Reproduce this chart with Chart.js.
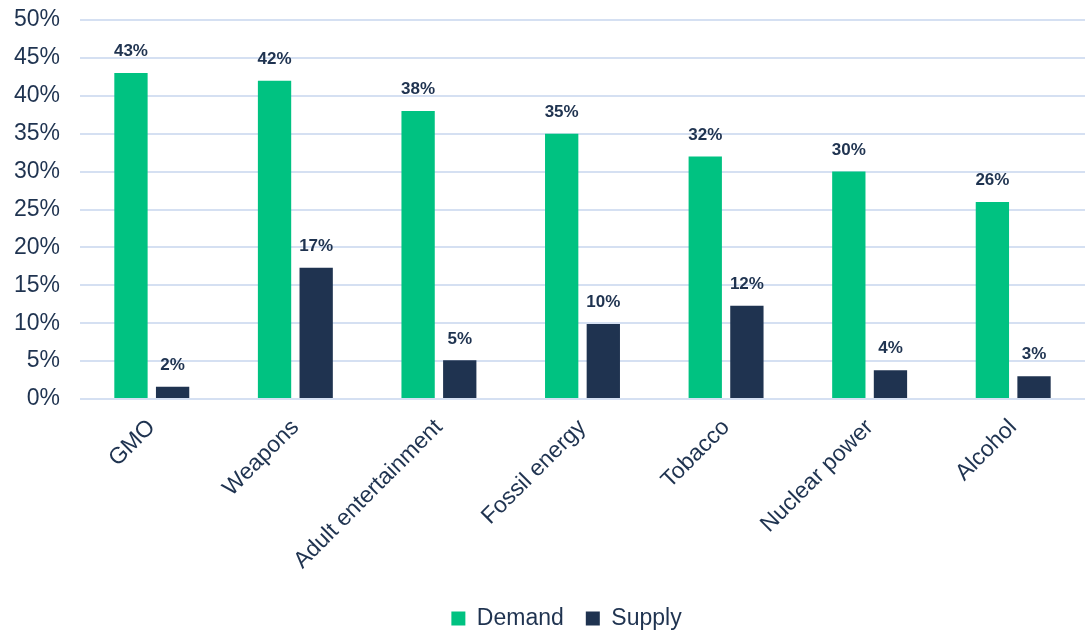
<!DOCTYPE html>
<html>
<head>
<meta charset="utf-8">
<script src="https://cdn.jsdelivr.net/npm/chart.js@4"></script>
<style>
  html, body { margin: 0; padding: 0; background: #fff; }
  #wrap { width: 1090px; height: 635px; }
</style>
</head>
<body>
<div id="wrap"><canvas id="chart"></canvas></div>
<script>
const categories = ['GMO', 'Weapons', 'Adult entertainment', 'Fossil energy', 'Tobacco', 'Nuclear power', 'Alcohol']
const demand = [43, 42, 38, 35, 32, 30, 26]
const supply = [1.6, 17.3, 5.1, 9.9, 12.3, 3.8, 3.0]
const yTicks = [0, 5, 10, 15, 20, 25, 30, 35, 40, 45, 50]

const navy = '#1f3350'
const green = '#00c281'
const fontFamily = '"Liberation Sans", Arial, sans-serif'

// percent labels over each bar
const barLabels = {
    id: 'barLabels',
    afterDatasetsDraw(chart) {
        const ctx = chart.ctx
        ctx.save()
        ctx.font = 'bold 17px ' + fontFamily
        ctx.fillStyle = navy
        ctx.textAlign = 'center'
        ctx.textBaseline = 'bottom'
        chart.data.datasets.forEach((ds, i) => {
            chart.getDatasetMeta(i).data.forEach((bar, j) => {
                ctx.fillText(Math.round(ds.data[j]) + '%', bar.x, bar.y - 13)
            })
        })
        ctx.restore()
    }
}

// legend sits a bit right of the canvas centre
const legendShift = {
    id: 'legendShift',
    afterLayout(chart) {
        chart.legend.left += 24
        chart.legend.right += 24
    }
}

new Chart(document.getElementById('chart').getContext('2d'), {
    type: 'bar',
    data: {
        labels: categories,
        datasets: [{
            label: 'Demand',
            data: demand,
            backgroundColor: green,
            categoryPercentage: 0.58,
            barPercentage: 0.8
        }, {
            label: 'Supply',
            data: supply,
            backgroundColor: navy,
            categoryPercentage: 0.58,
            barPercentage: 0.8
        }]
    },
    options: {
        responsive: true,
        maintainAspectRatio: false,
        animation: false,
        layout: { padding: { top: 20, right: 5, left: 0, bottom: -5 } },
        plugins: {
            legend: {
                position: 'bottom',
                labels: {
                    boxWidth: 14,
                    boxHeight: 14,
                    padding: 22,
                    color: navy,
                    font: { family: fontFamily, size: 23 }
                }
            },
            tooltip: { enabled: false }
        },
        scales: {
            x: {
                grid: { display: false },
                border: { display: false },
                afterFit: scale => { scale.height = 186 },
                ticks: {
                    minRotation: 45,
                    maxRotation: 45,
                    padding: 7,
                    color: navy,
                    font: { family: fontFamily, size: 23 }
                }
            },
            y: {
                min: 0,
                max: 50,
                afterFit: scale => {
                    scale.width = 80
                    scale.paddingTop = 0
                    scale.paddingBottom = 0
                },
                afterBuildTicks: scale => { scale.ticks = yTicks.map(v => ({ value: v })) },
                grid: { color: '#d5e0f2', lineWidth: 2, drawTicks: false },
                border: { display: false },
                ticks: {
                    padding: 20,
                    color: navy,
                    font: { family: fontFamily, size: 23 },
                    callback: v => v + '%'
                }
            }
        }
    },
    plugins: [barLabels, legendShift]
})
</script>
</body>
</html>
